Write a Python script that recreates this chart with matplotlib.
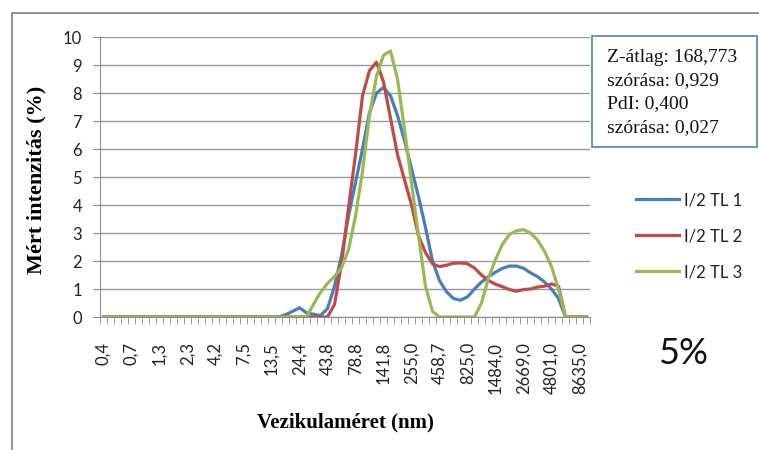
import numpy as np
import matplotlib.pyplot as plt
from matplotlib.patches import Rectangle

# méretosztályok (nm)
sizes = [0.4, 0.4632, 0.5365, 0.6213, 0.7195, 0.8332, 0.9649, 1.117, 1.294, 1.499,
         1.736, 2.01, 2.328, 2.696, 3.122, 3.615, 4.187, 4.849, 5.615, 6.503,
         7.531, 8.721, 10.1, 11.7, 13.54, 15.69, 18.17, 21.04, 24.36, 28.21,
         32.67, 37.84, 43.82, 50.75, 58.77, 68.06, 78.82, 91.28, 105.7, 122.4,
         141.8, 164.2, 190.1, 220.2, 255.0, 295.3, 342.0, 396.1, 458.7, 531.2,
         615.1, 712.4, 825.0, 955.4, 1106.0, 1281.0, 1484.0, 1718.0, 1990.0, 2305.0,
         2669.0, 3091.0, 3580.0, 4145.0, 4801.0, 5560.0, 6439.0, 7456.0, 8635.0, 10000.0]

tl1 = [0, 0, 0, 0, 0, 0, 0, 0, 0, 0,
       0, 0, 0, 0, 0, 0, 0, 0, 0, 0,
       0, 0, 0, 0, 0, 0, 0.08, 0.2, 0.33, 0.15,
       0.1, 0.05, 0.3, 1.1, 2.2, 3.6, 4.8, 6.0, 7.3, 8.0,
       8.2, 7.9, 7.2, 6.3, 5.3, 4.3, 3.2, 2.0, 1.3, 0.9,
       0.66, 0.6, 0.72, 1.0, 1.25, 1.44, 1.6, 1.74, 1.82, 1.82,
       1.74, 1.58, 1.44, 1.25, 1.0, 0.66, 0, 0, 0, 0]

tl2 = [0, 0, 0, 0, 0, 0, 0, 0, 0, 0,
       0, 0, 0, 0, 0, 0, 0, 0, 0, 0,
       0, 0, 0, 0, 0, 0, 0, 0, 0, 0,
       0, 0, 0, 0.45, 1.9, 3.9, 5.8, 7.9, 8.8, 9.1,
       8.4, 7.1, 5.8, 4.9, 4.0, 2.9, 2.3, 1.9, 1.8, 1.85,
       1.92, 1.93, 1.9, 1.75, 1.5, 1.3, 1.17, 1.08, 0.98, 0.92,
       0.98, 1.0, 1.07, 1.1, 1.18, 1.1, 0, 0, 0, 0]

tl3 = [0, 0, 0, 0, 0, 0, 0, 0, 0, 0,
       0, 0, 0, 0, 0, 0, 0, 0, 0, 0,
       0, 0, 0, 0, 0, 0, 0, 0, 0, 0,
       0.45, 0.88, 1.2, 1.45, 1.75, 2.4, 3.6, 5.2, 7.2, 8.6,
       9.35, 9.5, 8.5, 6.7, 4.8, 2.9, 1.1, 0.2, 0, 0,
       0, 0, 0, 0, 0.5, 1.4, 2.05, 2.6, 2.95, 3.08,
       3.12, 3.0, 2.75, 2.35, 1.8, 1.0, 0, 0, 0, 0]

series_names = ["I/2 TL 1", "I/2 TL 2", "I/2 TL 3"]
colors = ["#4A7EBB", "#BE4B48", "#98B954"]

stats = ["Z-átlag: 168,773", "szórása: 0,929", "PdI: 0,400", "szórása: 0,027"]
concentration = "5%"

W, H = 759, 450
fig = plt.figure(figsize=(W / 100, H / 100), dpi=100)
ax = fig.add_axes([100 / W, 1 - 317 / H, 490 / W, 280 / H])

x = np.arange(len(sizes))
for vals, name, c in zip([tl1, tl2, tl3], series_names, colors):
    ax.plot(x, vals, color=c, lw=2.3, label=name, solid_joinstyle="round")

ax.set_xlim(-0.5, len(sizes) - 0.5)
ax.set_ylim(0, 10)
ax.set_yticks(range(0, 11))
ax.grid(axis="y", color="#9a9a9a", lw=1)
ax.set_axisbelow(True)

labels = [f"{v:.1f}".replace(".", ",") for v in sizes]
ax.set_xticks(x[::4])
ax.set_xticklabels(labels[::4], rotation=90, va="top", ha="center")
ax.set_xticks(np.arange(-0.5, len(sizes), 1), minor=True)
ax.tick_params(axis="x", which="major", length=0, pad=18)
ax.tick_params(axis="x", which="minor", length=5, color="#8c8c8c", direction="out")
ax.tick_params(axis="y", length=5, color="#8c8c8c", pad=8)

for lab in ax.get_xticklabels() + ax.get_yticklabels():
    lab.set_fontfamily("Lato")
    lab.set_fontsize(12)
    lab.set_color("#222222")

for s in ["top", "right"]:
    ax.spines[s].set_visible(False)
for s in ["left", "bottom"]:
    ax.spines[s].set_color("#8c8c8c")

fig.text(36 / W, 1 - 180 / H, "Mért intenzitás (%)", rotation=90, ha="center", va="center",
         family="Liberation Serif", weight="bold", fontsize=16)
fig.text(345 / W, 1 - 422 / H, "Vezikulaméret (nm)", ha="center", va="center",
         family="Liberation Serif", weight="bold", fontsize=15)

leg = ax.legend(loc="center left", bbox_to_anchor=(636 / W, 1 - 236 / H),
                bbox_transform=fig.transFigure, frameon=False, borderpad=0,
                borderaxespad=0, handlelength=2.6, handletextpad=0.3,
                labelspacing=1.2, prop={"family": "Lato", "size": 12})
for t in leg.get_texts():
    t.set_color("#222222")

# statisztika doboz
fig.patches.append(Rectangle((592 / W, 1 - 147 / H), 165 / W, 111 / H,
                             transform=fig.transFigure, fill=False,
                             edgecolor="#4F81BD", lw=1.2))
for k, line in enumerate(stats):
    fig.text(607 / W, 1 - (57 + 23.5 * k) / H, line, ha="left", va="center",
             family="Liberation Serif", fontsize=14, color="#111111")

fig.text(683 / W, 1 - 353 / H, concentration, ha="center", va="center",
         family="Lato", fontsize=26, color="#111111")

# diagram keret (levágva)
fig.patches.append(Rectangle((12 / W, -0.1), 1.2, 1 - 13 / H + 0.1,
                             transform=fig.transFigure, fill=False,
                             edgecolor="#8a8a8a", lw=1.3))

fig.savefig("out.png", dpi=100)
